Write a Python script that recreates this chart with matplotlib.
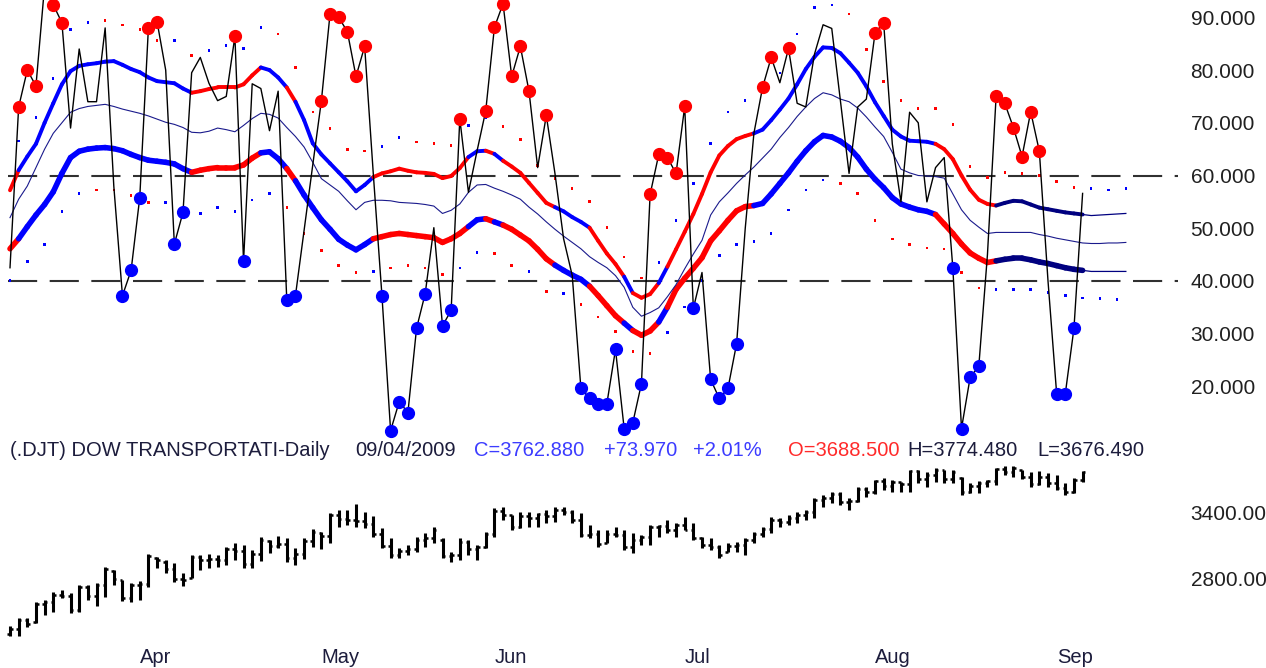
import numpy as np
import matplotlib
matplotlib.use("Agg")
import matplotlib.pyplot as plt
from matplotlib.collections import LineCollection

plt.rcParams["font.family"] = ["Liberation Sans", "DejaVu Sans"]

# ---------------------------------------------------------------------------
# Oscillator (one value per trading day, 11 Mar 2009 .. 04 Sep 2009)
osc = [42.5, 73, 80, 77, 96, 92.4, 89, 69, 84, 74,
       74, 88, 58, 37.2, 42, 55.8, 88, 89.2, 80, 47,
       53, 79.5, 82.4, 77.5, 74.2, 75, 86.4, 43.7, 77.4, 76.5,
       68.5, 76, 36.3, 37.2, 49.6, 62, 74.2, 90.7, 90, 87.3,
       78.8, 84.5, 60.3, 37.2, 11.6, 17.1, 15, 31, 37.6, 50.1,
       31.5, 34.4, 70.8, 56.8, 64.7, 72.3, 88.1, 92.6, 78.8, 84.5,
       76, 61.5, 71.4, 60.4, 48, 41, 19.6, 17.7, 16.7, 16.7,
       27, 12, 13.1, 20.5, 56.4, 64, 63.4, 60.4, 73.1, 34.8,
       41.6, 21.3, 17.7, 19.6, 28.1, 50, 68, 76.7, 82.4, 77.6,
       84.1, 73.7, 73, 83, 88.6, 87.9, 74.2, 60.4, 73, 74.5,
       87, 89, 66, 55, 72, 70, 55, 61.5, 63.4, 42.4,
       12, 21.7, 23.8, 45, 75, 73.7, 69.1, 63.6, 72.1, 64.6,
       40, 18.6, 18.6, 31, 56.6]

# overbought (r) / oversold (b) markers on the oscillator
signal = (".rrrrrr..." "...bbbrr.b" "b.....rb.." "..bb..rrrr" "rr.bbbbbb."
          "bbr..rrrrr" "r.r...bbbb" "bbbbrrrrrb" ".bbbb..rr." "r........."
          "rr.......b" "bbb.rrrrrr" ".bbb.")

# dynamic zone bands (last 5 values are projected past the last bar)
upper_band = [57.2, 61, 63.6, 66, 70, 73.7, 77.3, 79.8, 80.8, 81.1,
              81.3, 81.6, 81.7, 81, 80.2, 79.6, 78.6, 77.9, 77.7, 77.5,
              76.5, 75.7, 76, 76.4, 76.7, 76.7, 76.7, 77.3, 79, 80.5,
              80, 78.6, 76.7, 74, 70.5, 66.1, 64, 62.3, 60.6, 58.9,
              57, 58.2, 59.7, 60.4, 60.8, 61.3, 60.9, 60.6, 60.5, 60.3,
              59.5, 59.9, 61.4, 63.5, 64.6, 64.7, 64.1, 62.8, 61.7, 60.5,
              58.6, 56.7, 54.8, 54, 53.2, 52.1, 51.2, 50.1, 47.6, 45.2,
              43.2, 40.8, 37.7, 36.8, 37.5, 39.6, 42.7, 46, 49.3, 52.7,
              56.5, 60.6, 63.8, 65.6, 66.9, 67.5, 68, 68.7, 70.5, 72.5,
              74.6, 77.3, 80.2, 82.5, 84.3, 84.2, 83.2, 81.4, 79.5, 76.9,
              73.9, 71.3, 68.7, 67.4, 66.6, 66.5, 66.4, 66, 65, 63.1,
              60, 57.3, 55.4, 54.6, 54.3, 54.8, 55.2, 55.1, 54.5, 53.9,
              53.6, 53.3, 53, 52.8, 52.6, 52.4, 52.5, 52.6, 52.7, 52.8]
mid_band = [52, 55.5, 58, 61.5, 65, 68, 70, 72, 72.7, 73.1,
            73.3, 73.5, 73.1, 72.6, 72.2, 71.8, 71.3, 70.7, 70.1, 69.7,
            69.1, 68.2, 68.1, 68.4, 69, 68.7, 68.3, 69.5, 70.8, 71.8,
            71.6, 70.9, 69.1, 67.4, 65.4, 62.5, 59.4, 58.2, 57, 55.2,
            53.5, 54.9, 55.3, 55.3, 55.2, 54.9, 54.8, 54.7, 54.5, 54.2,
            52.8, 53.4, 54.6, 56.8, 58.2, 58.3, 57.6, 57, 56.3, 55.5,
            54, 52.7, 51.2, 49.8, 48.5, 47.3, 46.1, 44.6, 43.5, 42.5,
            41, 38.8, 35, 33.3, 34, 34.9, 37, 39.3, 42.3, 45.1,
            47.7, 52.5, 55, 56.7, 58.5, 60.1, 61.6, 63.3, 65, 67.2,
            69.1, 71.2, 73, 74.6, 75.7, 75.3, 74.5, 74, 72.8, 71.1,
            69.2, 67.4, 64.4, 61.2, 60.5, 60, 59.9, 59.8, 59.5, 56.5,
            53.5, 51.5, 50.2, 49, 49.2, 49.2, 49.2, 49.2, 49.2, 48.8,
            48.5, 48.1, 47.8, 47.5, 47.2, 47.1, 47.1, 47.2, 47.2, 47.3]
lower_band = [46.1, 48, 50.3, 52.5, 54.5, 56.9, 60.4, 63.4, 64.6, 65,
              65.2, 65.3, 65.1, 64.7, 64, 63.4, 62.9, 62.7, 62.5, 62.2,
              61.3, 60.6, 61, 61.3, 61.5, 61.5, 61.5, 62, 63.3, 64.3,
              64.5, 63.2, 61.3, 59, 56.3, 53.9, 51.6, 49.8, 47.9, 46.8,
              45.9, 46.9, 48, 48.4, 48.8, 49, 48.8, 48.6, 48.4, 48.2,
              47.3, 48, 49, 50.3, 51.6, 51.8, 51.2, 50.6, 49.8, 48.7,
              47.6, 46, 44.2, 43, 42, 41.1, 40.3, 39, 37.2, 35.3,
              33.4, 32, 30.6, 29.7, 30.5, 32.2, 35, 38.4, 40.5, 42.4,
              44.4, 47.6, 49.5, 51.5, 53.3, 54.1, 54.3, 54.7, 56.5, 58.5,
              60.5, 62.7, 64.7, 66.4, 67.6, 67.3, 66.5, 65.3, 63.5, 61.2,
              59.3, 57.7, 55.8, 54.6, 54, 53.5, 53.2, 52.6, 50.8, 49,
              47, 45.3, 44.3, 43.5, 43.8, 44.1, 44.3, 44.3, 44, 43.6,
              43.3, 42.9, 42.5, 42.2, 42, 41.8, 41.8, 41.8, 41.8, 41.8]

# band colour state per segment (r = red, b = blue, n = navy)
band_runs = [("r", 1), ("b", 20), ("r", 8), ("b", 3), ("r", 1), ("b", 9),
             ("r", 11), ("b", 2), ("r", 1), ("b", 1), ("r", 6), ("b", 4),
             ("r", 4), ("b", 1), ("r", 3), ("b", 1), ("r", 10), ("b", 21),
             ("r", 7), ("n", 10)]

# outer dotted zones: upper on odd bars 1..129, lower on even bars 0..128
outer_upper = [66.6, 71, 78.4, 87.7, 89, 89.4, 88.5, 87.7, 85.6, 85.6,
               82.8, 83.7, 84.7, 84.1, 88.1, 86.9, 80.5, 72.1, 68.9, 64.9,
               64.6, 65.5, 67.2, 66.3, 66.1, 65.7, 69.5, 71, 69.3, 66.8,
               61.9, 59.4, 57.5, 55.1, 50.1, 44.5, 40.5, 43.5, 51.5, 58.5,
               66.1, 72, 74.2, 76.1, 79.5, 86.9, 91.9, 92.3, 90.6, 83.9,
               77.8, 74.2, 72.7, 72.7, 69.7, 61.7, 59.6, 60.6, 60.4, 60,
               58.9, 57.7, 57.5, 57.2, 57.5]
outer_upper_col = ("bbbbb" "rrrr" "b" "r" "bbbb" "rrrrrr" "bb" "rrr" "bb"
                   "rrrrrrrrr" "bbbbbbbbbbb" "rrrrrrrrrrrrrr" "bbb")
outer_lower = [40.1, 43.7, 46.9, 53.2, 56.6, 57.2, 57.2, 56.2, 54.9, 54.9,
               53.7, 52.8, 53.9, 53.2, 55.4, 56.6, 53.9, 49, 45.8, 42.9,
               41.6, 41.8, 42.4, 42.9, 42.4, 41.2, 42.5, 45.4, 45.2, 42.9,
               41.8, 38, 37.6, 35.5, 33.2, 30.4, 26.6, 26.2, 30.2, 35.1,
               40.1, 44.8, 46.9, 47.5, 49, 53.5, 57.2, 59.2, 58.5, 56.6,
               51.5, 48, 46.9, 46.3, 46.1, 41.6, 38.7, 38.4, 38.4, 38.4,
               37.8, 37.2, 36.8, 36.7, 36.5]
outer_lower_col = ("bbbbb" "rrrr" "bbbbbbb" "rrrrr" "b" "rrrr" "bb" "rr" "b"
                   "r" "b" "rrrrr" "bbbbbbbbbb" "rrrrrrrrr" "bbbbbbbb")

# Dow Transports daily OHLC
p_open = [2290, 2340, 2420, 2400, 2560, 2580, 2650, 2640, 2510, 2720,
          2640, 2740, 2860, 2780, 2620, 2740, 2750, 2980, 2950, 2880,
          2790, 2800, 2990, 2960, 2970, 2960, 3060, 3050, 2930, 3020,
          3140, 3090, 3110, 2980, 3020, 3140, 3210, 3180, 3370, 3340,
          3330, 3320, 3290, 3200, 3090, 3010, 3050, 3060, 3150, 3160,
          3150, 3000, 3010, 3130, 3060, 3080, 3200, 3410, 3370, 3260,
          3360, 3350, 3380, 3360, 3420, 3400, 3330, 3190, 3200, 3120,
          3200, 3190, 3080, 3150, 3170, 3260, 3270, 3240, 3280, 3240,
          3160, 3100, 3080, 3040, 3090, 3100, 3150, 3200, 3250, 3330,
          3310, 3350, 3370, 3400, 3510, 3530, 3560, 3490, 3500, 3610,
          3580, 3680, 3640, 3670, 3650, 3770, 3700, 3740, 3780, 3700,
          3710, 3580, 3640, 3660, 3680, 3790, 3760, 3780, 3720, 3650,
          3720, 3660, 3620, 3580, 3688.5]
p_high = [2364, 2436, 2436, 2582, 2600, 2673, 2691, 2664, 2736, 2736,
          2755, 2900, 2873, 2782, 2755, 2773, 3018, 2991, 2964, 2936,
          2845, 3009, 3009, 3018, 3009, 3082, 3118, 3100, 3055, 3173,
          3145, 3182, 3164, 3073, 3164, 3245, 3218, 3391, 3418, 3418,
          3473, 3400, 3364, 3255, 3164, 3073, 3100, 3173, 3209, 3264,
          3164, 3036, 3164, 3145, 3100, 3218, 3436, 3445, 3373, 3400,
          3400, 3391, 3418, 3445, 3445, 3418, 3391, 3282, 3236, 3236,
          3264, 3236, 3209, 3191, 3282, 3282, 3327, 3300, 3355, 3300,
          3173, 3164, 3100, 3118, 3127, 3164, 3218, 3264, 3355, 3345,
          3373, 3400, 3418, 3527, 3555, 3582, 3582, 3527, 3627, 3627,
          3691, 3709, 3691, 3673, 3782, 3782, 3764, 3800, 3782, 3782,
          3718, 3664, 3682, 3691, 3800, 3818, 3818, 3782, 3764, 3773,
          3755, 3736, 3664, 3709, 3774.48]
p_low = [2273, 2273, 2355, 2391, 2464, 2491, 2618, 2482, 2491, 2600,
         2545, 2627, 2736, 2591, 2582, 2600, 2718, 2891, 2845, 2764,
         2727, 2800, 2873, 2891, 2900, 2918, 2964, 2891, 2891, 2955,
         3027, 3073, 2945, 2918, 2973, 3082, 3064, 3118, 3264, 3282,
         3264, 3255, 3173, 3073, 2982, 2982, 3009, 3036, 3082, 3118,
         2982, 2945, 2964, 3009, 2964, 3073, 3173, 3327, 3236, 3255,
         3264, 3264, 3300, 3309, 3373, 3300, 3173, 3164, 3082, 3118,
         3173, 3055, 3027, 3100, 3100, 3173, 3209, 3173, 3236, 3145,
         3073, 3055, 2982, 3036, 3036, 3009, 3118, 3173, 3209, 3264,
         3282, 3300, 3327, 3345, 3445, 3482, 3464, 3418, 3491, 3536,
         3564, 3600, 3582, 3582, 3582, 3664, 3627, 3673, 3664, 3664,
         3555, 3573, 3573, 3627, 3645, 3736, 3718, 3700, 3627, 3645,
         3627, 3600, 3555, 3573, 3676.49]
p_close = [2340, 2420, 2380, 2560, 2580, 2650, 2640, 2510, 2720, 2640,
           2740, 2880, 2790, 2620, 2740, 2750, 3000, 2960, 2880, 2790,
           2780, 2990, 2960, 2970, 2960, 3060, 3050, 2930, 3020, 3150,
           3090, 3110, 2980, 3020, 3140, 3220, 3180, 3370, 3340, 3330,
           3320, 3290, 3200, 3090, 3010, 3050, 3060, 3150, 3160, 3240,
           3000, 3010, 3130, 3060, 3080, 3200, 3410, 3370, 3260, 3360,
           3350, 3380, 3360, 3420, 3400, 3330, 3190, 3200, 3110, 3200,
           3190, 3080, 3150, 3170, 3260, 3270, 3240, 3280, 3240, 3160,
           3100, 3080, 3010, 3090, 3100, 3150, 3200, 3250, 3330, 3310,
           3350, 3370, 3400, 3510, 3530, 3560, 3490, 3500, 3610, 3580,
           3680, 3640, 3670, 3650, 3770, 3700, 3740, 3780, 3700, 3760,
           3580, 3640, 3660, 3680, 3790, 3760, 3800, 3720, 3650, 3720,
           3660, 3620, 3580, 3688.91, 3762.88]

month_names = ["Apr", "May", "Jun", "Jul", "Aug", "Sep"]
month_start = [15, 36, 56, 78, 100, 121]

osc_ticks = [20, 30, 40, 50, 60, 70, 80, 90]
zone_lines = [60, 40]
price_ticks = [2800, 3400]

header = [("(.DJT) DOW TRANSPORTATI-Daily", 10, "#1c1c3c"),
          ("09/04/2009", 355, "#1c1c3c"),
          ("C=3762.880", 474, "#3c3cff"),
          ("+73.970", 604, "#3c3cff"),
          ("+2.01%", 693, "#3c3cff"),
          ("O=3688.500", 788, "#ff2a2a"),
          ("H=3774.480", 907, "#1c1c3c"),
          ("L=3676.490", 1037, "#1c1c3c")]
# ---------------------------------------------------------------------------

W, H = 1266, 668
PX = 8.65      # pixels per bar
X0 = 10        # pixel of first bar


def box(x0, y0, x1, y1):
    return [x0 / W, 1 - y1 / H, (x1 - x0) / W, (y1 - y0) / H]


fig = plt.figure(figsize=(W / 100, H / 100), dpi=100)
fig.patch.set_facecolor("white")
ax = fig.add_axes(box(0, 0, 1185, 435))
ax2 = fig.add_axes(box(0, 458, 1185, 640))

xlim = (-X0 / PX, (1185 - X0) / PX)
colmap = {"r": "#ff0000", "b": "#0000ff", "n": "#000080"}

# ---------------- oscillator panel ----------------
for lev in zone_lines:
    ax.plot([-0.2, 135.0], [lev, lev], color="#303030", lw=1.5,
            dashes=(14, 6), zorder=1)

bars = np.arange(len(osc))
band_x = np.arange(len(upper_band))
state = "".join(c * n for c, n in band_runs)
nseg = len(state)


def draw_band(vals, lw):
    pts = np.column_stack([band_x, vals])
    segs = [pts[k:k + 2] for k in range(nseg)]
    lc = LineCollection(segs, colors=[colmap[c] for c in state],
                        linewidths=lw, capstyle="round", zorder=3)
    ax.add_collection(lc)
    ax.plot(band_x[nseg:], np.array(vals)[nseg:], color="#000080", lw=0.9,
            zorder=3)


draw_band(upper_band, 2.8)
draw_band(lower_band, 4.0)
ax.plot(band_x, mid_band, color="#1a1a8c", lw=0.8, zorder=3)

# outer dotted zones
up_x = np.arange(1, 130, 2)
lo_x = np.arange(0, 129, 2)
ax.scatter(up_x, outer_upper, s=3, marker="s", linewidths=0,
           c=[colmap[c] for c in outer_upper_col], zorder=2)
ax.scatter(lo_x, outer_lower, s=3, marker="s", linewidths=0,
           c=[colmap[c] for c in outer_lower_col], zorder=2)

ax.plot(bars, osc, color="black", lw=1.0, zorder=4)

for code in "rb":
    sel = [i for i, s in enumerate(signal) if s == code]
    ax.plot(bars[sel], np.array(osc)[sel], "o", ms=8.5, color=colmap[code],
            mec=colmap[code], zorder=5, clip_on=False)

ax.set_xlim(*xlim)
ax.set_ylim(60 - (435 - 175.5) / 5.271, 60 + 175.5 / 5.271)
ax.yaxis.tick_right()
ax.set_yticks(osc_ticks)
ax.set_yticklabels(["%.3f" % t for t in osc_ticks])
ax.set_xticks([])
ax.tick_params(axis="y", length=0, pad=4, labelsize=15, labelcolor="#202020")
for sp in ax.spines.values():
    sp.set_visible(False)
ax.patch.set_alpha(0)

# ---------------- header ----------------
for txt, xp, col in header:
    fig.text(xp / W, 1 - 451 / H, txt, color=col, fontsize=14.5,
             va="center", ha="left")

# ---------------- price panel ----------------
tick = 0.3
ax2.vlines(bars, p_low, p_high, color="black", lw=2.2)
ax2.hlines(p_open, bars - tick, bars, color="black", lw=1.8)
ax2.hlines(p_close, bars, bars + tick, color="black", lw=1.8)

ax2.set_xlim(*xlim)
ax2.set_ylim(3400 - (640 - 512) * 9.09, 3400 + (512 - 458) * 9.09)
ax2.yaxis.tick_right()
ax2.set_yticks(price_ticks)
ax2.set_yticklabels(["%.2f" % t for t in price_ticks])
ax2.set_xticks(month_start)
ax2.set_xticklabels(month_names)
for lab in ax2.get_xticklabels():
    lab.set_horizontalalignment("left")
ax2.tick_params(axis="y", length=0, pad=4, labelsize=15, labelcolor="#202020")
ax2.tick_params(axis="x", length=0, pad=6, labelsize=14.5, labelcolor="#1c1c3c")
for sp in ax2.spines.values():
    sp.set_visible(False)
ax2.patch.set_alpha(0)

fig.savefig("out.png", dpi=100, facecolor="white")
